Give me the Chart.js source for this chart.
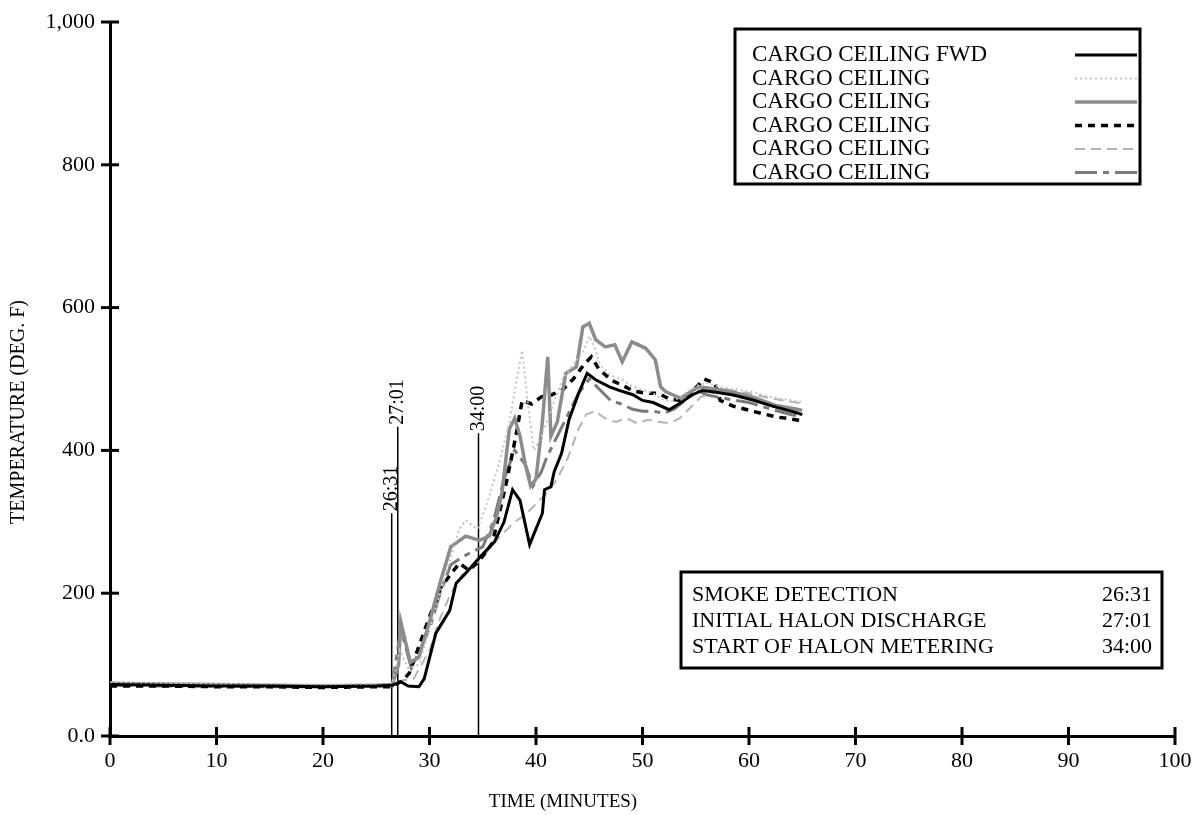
<!DOCTYPE html>
<html>
<head>
<meta charset="utf-8">
<script src="https://cdn.jsdelivr.net/npm/chart.js@4.4.1/dist/chart.umd.min.js"></script>
<style>
  html, body { margin: 0; padding: 0; background: #fff; }
  #wrap { width: 1193px; height: 815px; }
</style>
</head>
<body>
<div id="wrap"><canvas id="graficoTemp" width="1193" height="815"></canvas></div>
<script>
// Tiempo (minutos) y temperatura (deg F) de cada termopar
const tFwd = [0, 5, 10, 15, 20, 25, 26.5, 27.3, 28, 29, 29.5, 30.6, 31.9, 32.5, 33.4, 34.7, 36.1, 37, 37.8, 38.5, 39.4, 40, 40.6, 40.8, 41.4, 41.7, 42.4, 43.1, 44, 44.8, 45.6, 46.9, 47.8, 49.1, 50, 51, 52.5, 53.4, 54.7, 55.6, 56.6, 58.4, 60.3, 62.2, 64.4, 65];
const vFwd = [72, 71, 70, 70, 69, 70, 71, 76, 70, 69, 80, 144, 176, 214, 228, 250, 272, 300, 345, 330, 268, 290, 312, 345, 349, 370, 396, 443, 480, 508, 499, 489, 484, 478, 470, 467, 457, 465, 478, 484, 482, 478, 471, 462, 453, 450];

const t2 = [0, 5, 10, 15, 20, 25, 26.5, 27.2, 28, 29, 30, 31, 32, 32.8, 33.4, 34.5, 35.5, 36.5, 37.5, 38.2, 38.7, 39.2, 39.8, 40.5, 41.5, 42.5, 43.5, 44.5, 45, 45.5, 46, 47, 48, 49, 50, 51, 52, 53, 54, 55, 56, 57, 58, 60, 62, 64, 65];
const v2 = [75, 74, 73, 73, 72, 73, 73, 120, 95, 100, 150, 200, 250, 290, 302, 290, 330, 380, 440, 500, 540, 470, 400, 420, 460, 500, 520, 540, 560, 545, 520, 505, 500, 490, 485, 480, 470, 470, 480, 490, 495, 490, 487, 483, 475, 470, 468];

const t3 = [0, 5, 10, 15, 20, 25, 26.5, 27.1, 27.3, 28.2, 29, 30, 31, 32, 33.4, 34.7, 35.6, 36.3, 36.8, 37.5, 38, 38.5, 39, 39.5, 40, 40.6, 41.1, 41.4, 42, 42.8, 43.8, 44.4, 45, 45.6, 46.5, 47.4, 48.1, 49, 50.3, 51.2, 51.7, 52.2, 53.6, 54.7, 55.3, 57.8, 60.3, 62.5, 64.4, 65];
const v3 = [74, 73, 72, 71, 70, 71, 72, 100, 160, 103, 110, 160, 215, 265, 280, 274, 280, 307, 340, 430, 445, 420, 380, 350, 360, 440, 531, 420, 440, 508, 517, 573, 578, 555, 545, 548, 524, 552, 543, 527, 489, 482, 473, 484, 489, 484, 475, 463, 458, 456];

const t4 = [0, 5, 10, 15, 20, 25, 26.5, 27.5, 28.1, 30, 31.1, 32.8, 33.7, 34.7, 35.9, 37.2, 38.1, 38.7, 39.6, 40.5, 41.5, 42.5, 43.5, 44.5, 45.2, 45.9, 47.1, 48, 49.2, 50.4, 51.5, 52.5, 53.5, 54.5, 55.8, 56.8, 57.3, 58.5, 60.6, 62.5, 64.4, 65];
const v4 = [70, 70, 69, 69, 68, 69, 69, 78, 88, 167, 209, 242, 232, 246, 270, 354, 419, 470, 465, 475, 478, 485, 500, 520, 531, 514, 498, 492, 483, 480, 480, 472, 470, 480, 500, 494, 470, 462, 454, 447, 443, 441];

const t5 = [0, 5, 10, 15, 20, 25, 26.5, 27.5, 28.5, 30, 31, 32, 33, 34, 35, 36, 37, 38, 39, 40, 41, 42, 43, 44, 44.7, 45.5, 46.5, 47.5, 48.5, 49.5, 50.5, 51.5, 52.5, 53.5, 54.5, 55.5, 56.5, 58, 60, 62, 64, 65];
const v5 = [73, 72, 72, 71, 71, 72, 72, 78, 80, 120, 165, 200, 225, 235, 250, 270, 285, 300, 310, 325, 340, 360, 390, 430, 450, 455, 445, 440, 445, 438, 443, 440, 438, 445, 460, 475, 480, 485, 480, 473, 468, 466];

const t6 = [0, 5, 10, 15, 20, 25, 26.5, 27.3, 28.3, 30, 31, 32, 33, 34, 35, 36, 37, 38, 39, 39.7, 40.5, 41, 42, 43, 44, 45, 46, 47, 48, 49, 50, 51, 52, 53, 54, 55, 56, 57, 58, 60, 62, 64, 65];
const v6 = [71, 70, 70, 69, 69, 70, 70, 150, 95, 150, 200, 240, 250, 258, 265, 300, 360, 400, 380, 350, 370, 390, 420, 450, 480, 500, 485, 470, 465, 458, 455, 455, 452, 458, 470, 485, 478, 475, 472, 467, 458, 450, 448];

const etiquetas = ['CARGO CEILING FWD', 'CARGO CEILING', 'CARGO CEILING', 'CARGO CEILING', 'CARGO CEILING', 'CARGO CEILING'];

// Eventos: tiempo, altura de la linea, rotulo
const eventoT = [26.45, 27.02, 34.6];
const eventoTope = [312, 433, 424];
const eventoTxt = ['26:31', '27:01', '34:00'];

const eventoNombres = ['SMOKE DETECTION', 'INITIAL HALON DISCHARGE', 'START OF HALON METERING'];
const eventoHoras = ['26:31', '27:01', '34:00'];

const ticksX = [0, 10, 20, 30, 40, 50, 60, 70, 80, 90, 100];
const ticksY = [0, 200, 400, 600, 800, 1000];

const FUENTE = '"Liberation Serif", "Times New Roman", serif';

function puntos(ts, vs) {
    return ts.map((t, i) => ({ x: t, y: vs[i] }));
}

const estilos = [
    { color: '#000000', ancho: 3, guion: [] },
    { color: '#c4c4c4', ancho: 2, guion: [2, 3] },
    { color: '#8c8c8c', ancho: 3.5, guion: [] },
    { color: '#000000', ancho: 3.5, guion: [7, 6] },
    { color: '#b4b4b4', ancho: 2, guion: [10, 6] },
    { color: '#7a7a7a', ancho: 3, guion: [22, 6, 6, 6] }
];

const series = [[tFwd, vFwd], [t2, v2], [t3, v3], [t4, v4], [t5, v5], [t6, v6]];

let datasets = series.map((s, i) => ({
    label: etiquetas[i],
    data: puntos(s[0], s[1]),
    borderColor: estilos[i].color,
    borderWidth: estilos[i].ancho,
    borderDash: estilos[i].guion,
    pointRadius: 0,
    tension: 0,
    fill: false
}));

// lineas verticales de los eventos
eventoT.forEach((t, i) => {
    datasets.push({
        label: 'evento' + i,
        data: [{ x: t, y: 0 }, { x: t, y: eventoTope[i] }],
        borderColor: '#000',
        borderWidth: 1.5,
        pointRadius: 0
    });
});

const adornos = {
    id: 'adornos',
    afterDraw(chart) {
        const ctx = chart.ctx;
        const xS = chart.scales.x;
        const yS = chart.scales.y;
        ctx.save();
        ctx.fillStyle = '#000';
        ctx.strokeStyle = '#000';

        // marcas de los ejes, cruzando la linea
        ctx.lineWidth = 3;
        ctx.setLineDash([]);
        ticksX.forEach(v => {
            const px = xS.getPixelForValue(v);
            ctx.beginPath();
            ctx.moveTo(px, yS.bottom - 9);
            ctx.lineTo(px, yS.bottom + 9);
            ctx.stroke();
        });
        ticksY.forEach(v => {
            const py = yS.getPixelForValue(v);
            ctx.beginPath();
            ctx.moveTo(xS.left - 9, py);
            ctx.lineTo(xS.left + 9, py);
            ctx.stroke();
        });

        // rotulos de los eventos
        ctx.font = '20px ' + FUENTE;
        eventoT.forEach((t, i) => {
            const px = xS.getPixelForValue(t);
            const py = yS.getPixelForValue(eventoTope[i]);
            ctx.save();
            ctx.translate(px, py - 2);
            ctx.rotate(-Math.PI / 2);
            ctx.textAlign = 'left';
            ctx.textBaseline = 'middle';
            ctx.fillText(eventoTxt[i], 0, 0);
            ctx.restore();
        });

        // titulos de los ejes
        ctx.font = '19px ' + FUENTE;
        ctx.textAlign = 'center';
        ctx.textBaseline = 'middle';
        ctx.fillText('TIME (MINUTES)', 563, 802);
        ctx.save();
        ctx.translate(19, 412);
        ctx.rotate(-Math.PI / 2);
        ctx.font = '20px ' + FUENTE;
        ctx.fillText('TEMPERATURE (DEG. F)', 0, 0);
        ctx.restore();

        // leyenda en recuadro
        ctx.lineWidth = 3;
        ctx.strokeRect(735, 29, 405, 155);
        ctx.font = '23px ' + FUENTE;
        ctx.textAlign = 'left';
        for (let i = 0; i < 6; i++) {
            const y = 55 + i * 23.5;
            const ds = chart.data.datasets[i];
            ctx.fillStyle = '#000';
            ctx.fillText(ds.label, 752, y);
            ctx.save();
            ctx.strokeStyle = ds.borderColor;
            ctx.lineWidth = ds.borderWidth;
            ctx.setLineDash(ds.borderDash);
            ctx.beginPath();
            ctx.moveTo(1075, y);
            ctx.lineTo(1137, y);
            ctx.stroke();
            ctx.restore();
        }

        // recuadro de eventos
        ctx.lineWidth = 3;
        ctx.strokeRect(681, 572, 481, 96);
        ctx.font = '22px ' + FUENTE;
        for (let i = 0; i < eventoNombres.length; i++) {
            const y = 595 + i * 26;
            ctx.textAlign = 'left';
            ctx.fillText(eventoNombres[i], 692, y);
            ctx.textAlign = 'right';
            ctx.fillText(eventoHoras[i], 1152, y);
        }
        ctx.restore();
    }
};

const ctx = document.getElementById('graficoTemp').getContext('2d');

let chart = new Chart(ctx, {
    type: 'line',
    data: { datasets: datasets },
    options: {
        responsive: false,
        animation: false,
        events: [],
        layout: { padding: { top: 22, right: 18, bottom: 0, left: 0 } },
        plugins: {
            legend: { display: false },
            tooltip: { enabled: false }
        },
        scales: {
            x: {
                type: 'linear',
                min: 0,
                max: 100,
                afterFit: s => { s.height = 79; s.paddingLeft = 0; s.paddingRight = 0; },
                afterBuildTicks: s => { s.ticks = ticksX.map(v => ({ value: v })); },
                grid: { display: false, drawTicks: false },
                border: { display: true, color: '#000', width: 3 },
                ticks: {
                    color: '#000',
                    padding: 12,
                    maxRotation: 0,
                    font: { family: FUENTE, size: 22 }
                }
            },
            y: {
                type: 'linear',
                min: 0,
                max: 1000,
                afterFit: s => { s.width = 110; s.paddingTop = 0; s.paddingBottom = 0; },
                afterBuildTicks: s => { s.ticks = ticksY.map(v => ({ value: v })); },
                grid: { display: false, drawTicks: false },
                border: { display: true, color: '#000', width: 3 },
                ticks: {
                    color: '#000',
                    padding: 15,
                    font: { family: FUENTE, size: 22 },
                    callback: v => v === 0 ? '0.0' : (v === 1000 ? '1,000' : String(v))
                }
            }
        }
    },
    plugins: [adornos]
});
</script>
</body>
</html>
